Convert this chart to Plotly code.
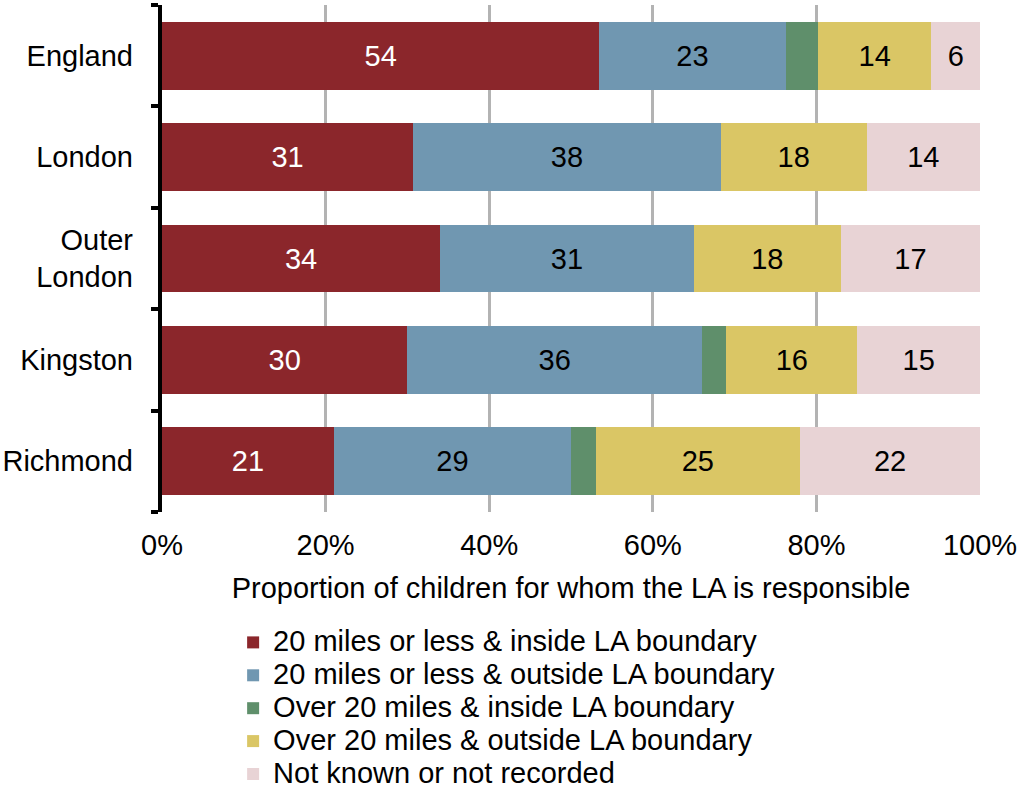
import plotly.graph_objects as go

areas = ["England", "London", "Outer<br>London", "Kingston", "Richmond"]
series_names = [
    "20 miles or less & inside LA boundary",
    "20 miles or less & outside LA boundary",
    "Over 20 miles & inside LA boundary",
    "Over 20 miles & outside LA boundary",
    "Not known or not recorded",
]
in20_inside = [54, 31, 34, 30, 21]
in20_outside = [23, 38, 31, 36, 29]
over20_inside = [4, 0, 0, 3, 3]
over20_outside = [14, 18, 18, 16, 25]
not_known = [6, 14, 17, 15, 22]
colors = ["#8B262B", "#7097B1", "#5F8F6B", "#DAC665", "#E8D3D5"]
text_colors = ["white", "black", "black", "black", "black"]
show_labels = [True, True, False, True, True]
x_ticks = [0, 20, 40, 60, 80, 100]
x_tick_labels = ["0%", "20%", "40%", "60%", "80%", "100%"]

FONT = "Liberation Sans, Arial, sans-serif"
FS = 29

fig = go.Figure()
all_series = [in20_inside, in20_outside, over20_inside, over20_outside, not_known]
for name, vals, col, tc, show in zip(series_names, all_series, colors, text_colors, show_labels):
    fig.add_trace(go.Bar(
        y=areas, x=vals, name=f'<span style="font-size:{FS}px">{name}</span>', orientation="h",
        marker=dict(color=col, line=dict(width=0)),
        text=[str(v) if (show and v > 0) else "" for v in vals],
        textposition="inside", insidetextanchor="middle",
        textfont=dict(color=tc, size=FS, family=FONT),
        textangle=0, constraintext="none",
        hoverinfo="skip",
    ))

# helper axis for category-boundary tick marks
fig.add_trace(go.Scatter(x=[None], y=[None], yaxis="y2", showlegend=False, hoverinfo="skip"))

n = len(areas)
fig.update_layout(
    barmode="stack", barnorm="percent", bargap=0.33,
    width=1018, height=789,
    margin=dict(l=162, r=38, t=5, b=277, autoexpand=False),
    paper_bgcolor="white", plot_bgcolor="white",
    font=dict(family=FONT, size=FS, color="black"),
    xaxis=dict(
        range=[0, 100], tickvals=x_ticks, ticktext=x_tick_labels,
        showgrid=True, gridcolor="#B3B3B3", gridwidth=3,
        zeroline=False, showline=False, ticks="", automargin=False,
        tickfont=dict(size=FS), ticklabelstandoff=13,
        title=dict(text="Proportion of children for whom the LA is responsible", font=dict(size=FS), standoff=17),
    ),
    yaxis=dict(
        autorange="reversed", ticks="", showline=False, showgrid=False, automargin=False,
        tickfont=dict(size=FS), ticklabelstandoff=28,
    ),
    yaxis2=dict(
        overlaying="y", side="left", range=[n - 0.5, -0.5], automargin=False,
        tickvals=[i - 0.5 for i in range(n + 1)], showticklabels=False,
        ticks="outside", ticklen=7, tickwidth=4, tickcolor="black",
        showline=True, linecolor="black", linewidth=4, showgrid=False, zeroline=False,
    ),
    legend=dict(
        xref="container", yref="container",
        x=0.229, y=0.213, xanchor="left", yanchor="top", traceorder="normal",
        font=dict(size=23), tracegroupgap=0, itemsizing="constant",
        bgcolor="rgba(0,0,0,0)",
    ),
)

fig.write_html("out.html", config={"displayModeBar": False},
               post_script="document.body.style.margin='0';")
